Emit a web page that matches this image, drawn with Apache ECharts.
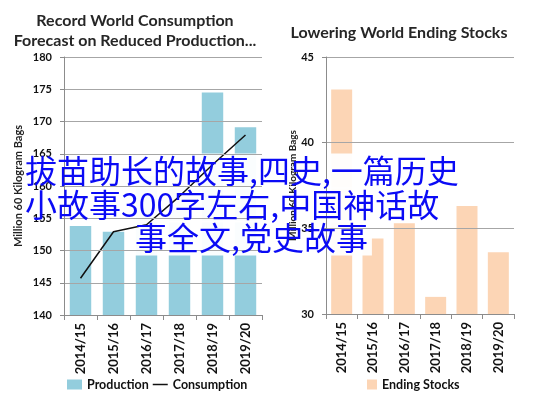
<!DOCTYPE html>
<html>
<head>
    <meta charset="UTF-8">
    <title>Coffee consumption and ending stocks</title>
    <script src="https://cdn.jsdelivr.net/npm/echarts@6/dist/echarts.min.js"></script>
    <style type="text/css">
    * {
        margin: 0;
        padding: 0;
    }
    body {
        background-color: #ffffff;
    }
    #chart {
        width: 537px;
        height: 399px;
    }
    </style>
</head>
<body>
    <div id="chart"></div>
    <script>
        // values
        var years = ['2014/15', '2015/16', '2016/17', '2017/18', '2018/19', '2019/20'];
        var production = [153.8, 152.9, 161.5, 159.8, 174.5, 169.1];
        var consumption = [145.7, 152.9, 154.0, 158.4, 163.3, 167.9];
        var endingStocks = [43.1, 34.4, 35.3, 31.0, 36.3, 33.6];

        var overlayLines = ['拔苗助长的故事,四史,一篇历史', '小故事300字左右,中国神话故', '事全文,党史故事'];

        var font = 'Lato, "Open Sans", sans-serif';
        var cjk = '"Noto Sans CJK SC", sans-serif';
        var axisGrey = '#8c8c8c';

        var chart = echarts.init(document.getElementById('chart'), null, {renderer: 'canvas'});

        function valueAxis(idx, min, max, gap) {
            return {
                type: 'value', gridIndex: idx, min: min, max: max, interval: 5, z: 5, zlevel: 2,
                name: 'Million 60 Kilogram Bags', nameLocation: 'middle', nameRotate: 90, nameGap: gap,
                nameTextStyle: {fontFamily: font, fontWeight: 'bold', fontSize: idx ? 10 : 11, color: '#222'},
                axisLine: {show: true, lineStyle: {color: axisGrey}},
                axisTick: {show: true, length: 4, lineStyle: {color: axisGrey}},
                axisLabel: {fontFamily: font, fontWeight: 'bold', fontSize: 11, color: '#111', margin: 12},
                splitLine: {lineStyle: {color: '#a6a6a6'}}
            };
        }

        function catAxis(idx) {
            return {
                type: 'category', gridIndex: idx, data: years, z: 5, zlevel: 2,
                axisLine: {lineStyle: {color: axisGrey}},
                axisTick: {show: true, length: 5, lineStyle: {color: axisGrey}},
                axisLabel: {rotate: 90, fontFamily: font, fontWeight: 'bold', fontSize: 13, color: '#111', margin: 8}
            };
        }

        // overlay text: a white band under each line, the blue text on top of everything
        var graphics = [];
        var pos = [[25, 171], [25, 205], [135, 238]];
        overlayLines.forEach(function (t, i) {
            var base = {
                text: t, x: pos[i][0], y: pos[i][1],
                font: '32px ' + cjk, lineHeight: 33,
                align: 'left', verticalAlign: 'middle',
                textAlign: 'left', textVerticalAlign: 'middle'
            };
            graphics.push({type: 'text', zlevel: 1, z: 2, silent: true,
                style: Object.assign({}, base, {fill: 'rgba(0,0,0,0)', backgroundColor: 'rgba(255,255,255,0.95)', padding: [1, 2]})});
            graphics.push({type: 'text', zlevel: 3, z: 10, silent: true,
                style: Object.assign({}, base, {fill: '#0a0af5'})});
        });

        var option = {
            animation: false,
            backgroundColor: '#ffffff',
            title: [{
                text: 'Record World Consumption\nForecast on Reduced Production...',
                left: 130, top: 6, textAlign: 'center',
                textStyle: {fontFamily: font, fontWeight: 'bold', fontSize: 16, lineHeight: 20, color: '#262626'}
            }, {
                text: 'Lowering World Ending Stocks',
                left: 394, top: 20, textAlign: 'center',
                textStyle: {fontFamily: font, fontWeight: 'bold', fontSize: 16, color: '#262626'}
            }],
            legend: [{
                data: [{name: 'Production', icon: 'rect'}, {name: 'Consumption', icon: 'path://M0,0H16V1.6H0Z'}],
                left: 62, top: 373, itemWidth: 15, itemHeight: 10, itemGap: 4,
                textStyle: {fontFamily: font, fontWeight: 'bold', fontSize: 12.5, color: '#111'}
            }, {
                data: [{name: 'Ending Stocks', icon: 'rect'}],
                left: 362, top: 373, itemWidth: 10, itemHeight: 10,
                textStyle: {fontFamily: font, fontWeight: 'bold', fontSize: 12.5, color: '#111'}
            }],
            grid: [
                {left: 64, top: 57, width: 198, height: 258},
                {left: 326, top: 57, width: 188, height: 257}
            ],
            xAxis: [catAxis(0), catAxis(1)],
            yAxis: [valueAxis(0, 140, 180, 40), valueAxis(1, 30, 45, 24)],
            graphic: graphics,
            series: [{
                name: 'Production', type: 'bar', xAxisIndex: 0, yAxisIndex: 0, z: 1,
                data: production, barWidth: '65%',
                itemStyle: {color: '#93cddd'}
            }, {
                name: 'Consumption', type: 'line', xAxisIndex: 0, yAxisIndex: 0, z: 4, zlevel: 2,
                data: consumption, symbol: 'none',
                lineStyle: {color: '#111', width: 1.5}, itemStyle: {color: '#111'}
            }, {
                name: 'Ending Stocks', type: 'bar', xAxisIndex: 1, yAxisIndex: 1, z: 1,
                data: endingStocks, barWidth: '67%',
                itemStyle: {color: '#fcd5b5'}
            }]
        };

        chart.setOption(option);
    </script>
</body>
</html>
